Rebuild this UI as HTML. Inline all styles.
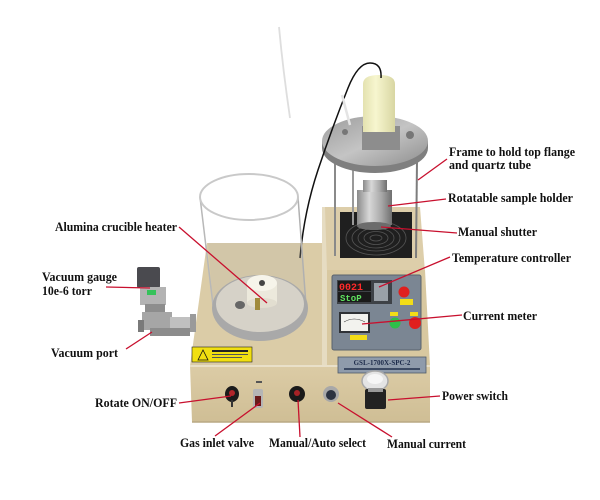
<!DOCTYPE html>
<html><head><meta charset="utf-8">
<style>
html,body{margin:0;padding:0;background:#fff;}
svg{display:block;}
.t{font-family:"Liberation Serif",serif;font-weight:bold;font-size:12.5px;fill:#111;}
.r{stroke:#c8102e;stroke-width:1.3;fill:none;}
</style></head>
<body>
<svg width="600" height="500" viewBox="0 0 600 500" xmlns="http://www.w3.org/2000/svg">
<defs>
<linearGradient id="steel" x1="0" x2="1" y1="0" y2="0">
<stop offset="0" stop-color="#8a8a8a"/><stop offset="0.35" stop-color="#d8d8d8"/><stop offset="0.7" stop-color="#a8a8a8"/><stop offset="1" stop-color="#6f6f6f"/>
</linearGradient>
<linearGradient id="flange" x1="0" x2="1" y1="0" y2="1">
<stop offset="0" stop-color="#9c9c9c"/><stop offset="0.5" stop-color="#c4c4c4"/><stop offset="1" stop-color="#8e8e8e"/>
</linearGradient>
<linearGradient id="cream" x1="0" x2="1">
<stop offset="0" stop-color="#e4e2b0"/><stop offset="0.4" stop-color="#f7f6cf"/><stop offset="1" stop-color="#d8d6a2"/>
</linearGradient>
<linearGradient id="front" x1="0" x2="0" y1="0" y2="1">
<stop offset="0" stop-color="#dccca6"/><stop offset="1" stop-color="#cfbe95"/>
</linearGradient>
</defs>

<!-- white tube -->
<path d="M279,27 Q283,70 290,118" stroke="#dedede" stroke-width="1.8" fill="none"/>

<!-- body: left section top surface -->
<polygon points="207,243 326,243 326,366 190,366" fill="#dbcca7"/>
<!-- right section side & top -->
<polygon points="322,207 330,207 330,366 322,366" fill="#e6dcc2"/>
<polygon points="325,207 420,207 425,272 327,272" fill="#ddceaa"/>
<!-- right section front -->
<polygon points="327,270 425,270 430,366 327,366" fill="#d8c8a0"/>
<!-- front face -->
<polygon points="190,365 430,365 430,422 192,422" fill="url(#front)"/>
<line x1="190" y1="366" x2="430" y2="366" stroke="#e9e0c9" stroke-width="2"/>
<line x1="192" y1="422" x2="430" y2="422" stroke="#b9a983" stroke-width="1.5"/>

<!-- fan -->
<rect x="340" y="212" width="72" height="46" fill="#1f1f1f"/>
<g fill="none" stroke="#555" stroke-width="0.8">
<ellipse cx="376" cy="238" rx="30" ry="17"/>
<ellipse cx="376" cy="238" rx="24" ry="13"/>
<ellipse cx="376" cy="238" rx="18" ry="10"/>
<ellipse cx="376" cy="238" rx="12" ry="6.5"/>
<ellipse cx="376" cy="238" rx="6" ry="3"/>
</g>

<!-- rods -->
<line x1="335" y1="160" x2="335" y2="256" stroke="#8a8a8a" stroke-width="2"/>
<line x1="353" y1="165" x2="353" y2="225" stroke="#9a9a9a" stroke-width="2"/>
<line x1="417" y1="160" x2="416" y2="258" stroke="#7d7d7d" stroke-width="2"/>

<!-- sample holder -->
<rect x="357" y="190" width="35" height="35" fill="url(#steel)"/>
<rect x="363" y="180" width="24" height="12" fill="url(#steel)"/>
<ellipse cx="374" cy="226" rx="17" ry="4" fill="#6c6c6c"/>

<!-- flange -->
<path d="M322,141 L322,148 A53,25 0 0 0 428,148 L428,141 Z" fill="#7f7f7f"/>
<ellipse cx="375" cy="141" rx="53" ry="25" fill="url(#flange)"/>
<rect x="362" y="126" width="38" height="24" fill="#8d8d8d"/>
<circle cx="410" cy="135" r="4" fill="#777"/>
<circle cx="345" cy="132" r="3" fill="#777"/>

<!-- cream cylinder -->
<path d="M363,132 L363,84 Q363,75 379,75 Q395,75 395,84 L395,132 Z" fill="url(#cream)"/>

<!-- cable -->
<path d="M381,78 Q382,63 370,63 Q358,63 348,88 Q332,128 318,170 Q304,212 300,258" stroke="#111" stroke-width="1.5" fill="none"/>

<!-- small white tube on flange -->
<line x1="342" y1="95" x2="350" y2="125" stroke="#e4e4e4" stroke-width="2.5"/>

<!-- bell jar -->
<path d="M208,243 L213,305 L306,305 L302,243 Z" fill="#b9b4aa" opacity="0.25"/>
<line x1="200" y1="197" x2="213" y2="305" stroke="#b8b8b8" stroke-width="1.5"/>
<line x1="298" y1="197" x2="306" y2="305" stroke="#b0b0b0" stroke-width="1.5"/>
<ellipse cx="249" cy="197" rx="49" ry="23" fill="none" stroke="#c9c9c9" stroke-width="2"/>
<!-- base -->
<ellipse cx="260" cy="308" rx="48" ry="33" fill="#a9a9a9"/>
<ellipse cx="260" cy="304" rx="44" ry="28" fill="#d6d2c8"/>
<ellipse cx="240" cy="305" rx="5" ry="4" fill="#666"/>
<!-- crucible -->
<rect x="247" y="283" width="30" height="20" fill="#ece9dc"/>
<ellipse cx="262" cy="303" rx="15" ry="5" fill="#e2ded0"/>
<ellipse cx="262" cy="283" rx="15" ry="8" fill="#f6f4ea"/>
<circle cx="262" cy="283" r="3" fill="#444"/>
<rect x="255" y="298" width="5" height="12" fill="#a08a3a"/>

<!-- vacuum gauge -->
<rect x="137" y="267" width="23" height="21" rx="2" fill="#4a4a4f"/>
<rect x="140" y="287" width="26" height="18" fill="#b3b3b3"/>
<rect x="147" y="290" width="9" height="5" fill="#35c25a"/>
<rect x="145" y="304" width="20" height="10" fill="#8d8d8d"/>
<!-- valve cross -->
<rect x="142" y="312" width="30" height="18" fill="#a6a6a6"/>
<rect x="170" y="317" width="22" height="12" fill="#c0c0c0"/>
<rect x="190" y="314" width="6" height="18" fill="#9a9a9a"/>
<rect x="150" y="328" width="40" height="8" fill="#8c8c8c"/>
<rect x="138" y="320" width="6" height="12" fill="#7a7a7a"/>

<!-- warning label -->
<rect x="192" y="347" width="60" height="15" fill="#f1df10" stroke="#222" stroke-width="0.6"/>
<polygon points="198,360 203,350 208,360" fill="none" stroke="#111" stroke-width="0.8"/>
<rect x="212" y="350" width="36" height="2" fill="#222"/>
<rect x="212" y="354" width="36" height="1" fill="#555"/>
<rect x="212" y="357" width="30" height="1" fill="#555"/>

<!-- control panel -->
<rect x="332" y="275" width="89" height="75" rx="2" fill="#7b8693" stroke="#5a636d" stroke-width="1"/>
<rect x="337" y="280" width="55" height="24" fill="#3e4247"/>
<rect x="338" y="281" width="33" height="10" fill="#1a1a1a"/>
<text x="339" y="290" font-family="Liberation Mono,monospace" font-size="10" font-weight="bold" fill="#ff2a2a">0021</text>
<rect x="338" y="292" width="33" height="10" fill="#1a1a1a"/>
<text x="340" y="301" font-family="Liberation Mono,monospace" font-size="9" font-weight="bold" fill="#5fe05f">StoP</text>
<rect x="374" y="283" width="14" height="18" fill="#9aa1a8"/>
<circle cx="404" cy="292" r="5.5" fill="#e0201e"/>
<rect x="400" y="299" width="13" height="6" fill="#f2dd18"/>
<rect x="339" y="312" width="31" height="21" fill="#2f3236"/>
<rect x="341" y="314" width="27" height="17" fill="#f2f2ee"/>
<path d="M344,322 Q354,316 365,322" stroke="#333" stroke-width="0.6" fill="none"/>
<rect x="350" y="335" width="17" height="5" fill="#f2dd18"/>
<rect x="390" y="312" width="8" height="4" fill="#f2dd18"/>
<rect x="410" y="312" width="8" height="4" fill="#f2dd18"/>
<circle cx="395" cy="323" r="5.5" fill="#2fbf4a"/>
<circle cx="415" cy="323" r="6" fill="#e0201e"/>

<!-- model plate -->
<rect x="338" y="357" width="88" height="16" fill="#8f9bab" stroke="#4f5a68" stroke-width="0.8"/>
<text x="382" y="365" text-anchor="middle" font-family="Liberation Serif,serif" font-size="7" font-weight="bold" fill="#1d2b4a">GSL-1700X-SPC-2</text>
<rect x="344" y="368" width="76" height="2" fill="#3c4a63"/>

<!-- front controls -->
<ellipse cx="232" cy="394" rx="7" ry="8" fill="#1b1b1b"/>
<ellipse cx="232" cy="393" rx="3" ry="3" fill="#b0262a"/>
<rect x="231" y="400" width="2" height="7" fill="#333"/>
<rect x="253" y="389" width="10" height="19" rx="2" fill="#b5b5b5"/>
<rect x="255" y="396" width="6" height="10" fill="#6a1a1a"/>
<rect x="256" y="381" width="6" height="2" fill="#555"/>
<ellipse cx="297" cy="394" rx="8" ry="8" fill="#1a1a1a"/>
<ellipse cx="297" cy="393" rx="3" ry="3" fill="#a72226"/>
<circle cx="331" cy="394" r="8" fill="#a8a8a8"/>
<circle cx="331" cy="395" r="5" fill="#2b3240"/>
<ellipse cx="375" cy="381" rx="13" ry="10" fill="#e4e4e4" stroke="#a9a9a9" stroke-width="1.5"/>
<ellipse cx="375" cy="379" rx="8" ry="5" fill="#f6f6f6"/>
<rect x="365" y="389" width="21" height="20" rx="2" fill="#222"/>
<rect x="368" y="388" width="15" height="4" fill="#999"/>

<!-- red leader lines -->
<line class="r" x1="447" y1="159" x2="418" y2="180"/>
<line class="r" x1="446" y1="199" x2="388" y2="206"/>
<line class="r" x1="457" y1="233" x2="381" y2="227"/>
<line class="r" x1="179" y1="227" x2="267" y2="303"/>
<line class="r" x1="106" y1="287" x2="150" y2="288"/>
<line class="r" x1="126" y1="349" x2="152" y2="332"/>
<line class="r" x1="450" y1="257" x2="379" y2="287"/>
<line class="r" x1="462" y1="315" x2="362" y2="324"/>
<line class="r" x1="179" y1="403" x2="231" y2="396"/>
<line class="r" x1="215" y1="436" x2="260" y2="403"/>
<line class="r" x1="300" y1="437" x2="298" y2="400"/>
<line class="r" x1="392" y1="437" x2="338" y2="403"/>
<line class="r" x1="440" y1="396" x2="388" y2="400"/>

<!-- labels -->
<text class="t" x="449" y="156" textLength="126" lengthAdjust="spacingAndGlyphs">Frame to hold top flange</text>
<text class="t" x="449" y="169" textLength="82" lengthAdjust="spacingAndGlyphs">and quartz tube</text>
<text class="t" x="448" y="202" textLength="125" lengthAdjust="spacingAndGlyphs">Rotatable sample holder</text>
<text class="t" x="458" y="236" textLength="79" lengthAdjust="spacingAndGlyphs">Manual shutter</text>
<text class="t" x="55" y="231" textLength="122" lengthAdjust="spacingAndGlyphs">Alumina crucible heater</text>
<text class="t" x="452" y="262" textLength="119" lengthAdjust="spacingAndGlyphs">Temperature controller</text>
<text class="t" x="42" y="281" textLength="75" lengthAdjust="spacingAndGlyphs">Vacuum gauge</text>
<text class="t" x="42" y="295" textLength="50" lengthAdjust="spacingAndGlyphs">10e-6 torr</text>
<text class="t" x="463" y="320" textLength="74" lengthAdjust="spacingAndGlyphs">Current meter</text>
<text class="t" x="51" y="357" textLength="67" lengthAdjust="spacingAndGlyphs">Vacuum port</text>
<text class="t" x="95" y="407" textLength="82" lengthAdjust="spacingAndGlyphs">Rotate ON/OFF</text>
<text class="t" x="442" y="400" textLength="66" lengthAdjust="spacingAndGlyphs">Power switch</text>
<text class="t" x="180" y="447" textLength="74" lengthAdjust="spacingAndGlyphs">Gas inlet valve</text>
<text class="t" x="269" y="447" textLength="97" lengthAdjust="spacingAndGlyphs">Manual/Auto select</text>
<text class="t" x="387" y="448" textLength="79" lengthAdjust="spacingAndGlyphs">Manual current</text>
</svg>
</body></html>
